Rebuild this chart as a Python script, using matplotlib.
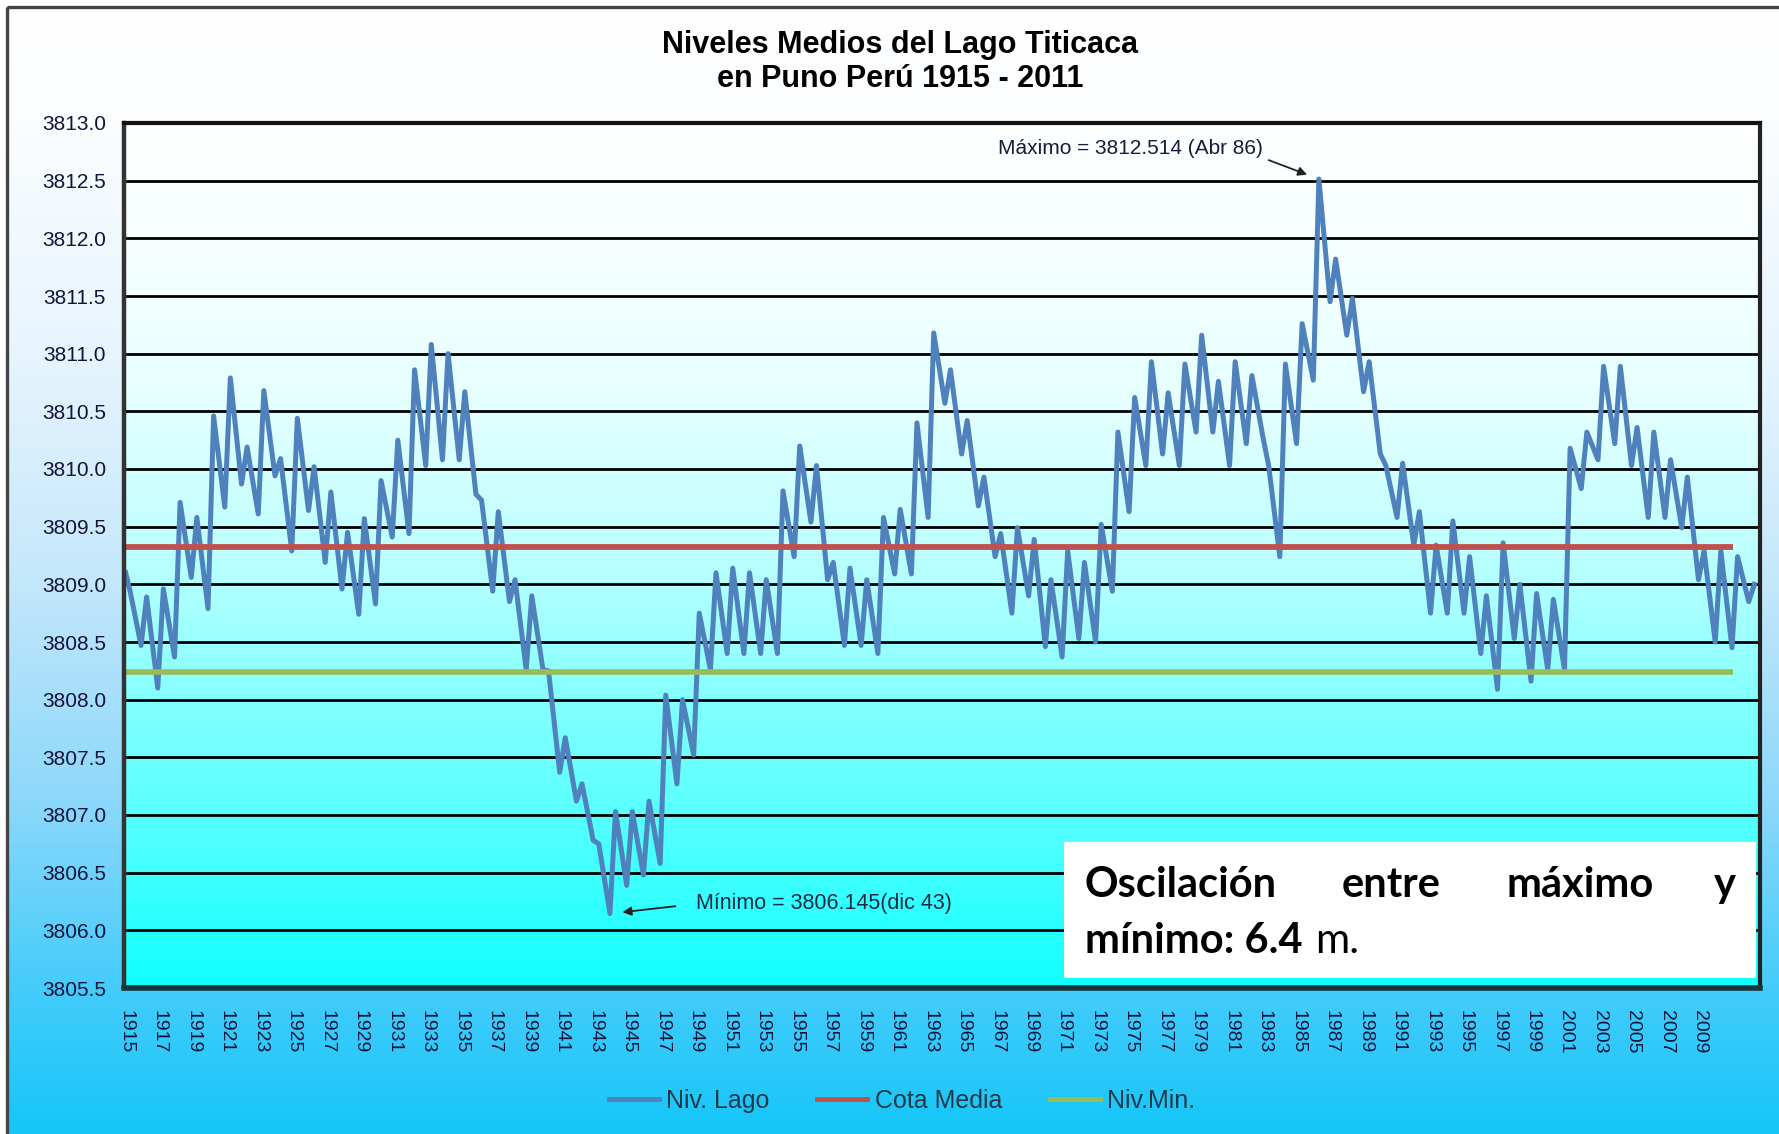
import numpy as np
import matplotlib
matplotlib.use("Agg")
import matplotlib.pyplot as plt
from matplotlib.colors import LinearSegmentedColormap
from matplotlib.patches import Rectangle
from matplotlib.lines import Line2D

# ---------------- data ----------------
anios = list(range(1915, 2012))
# annual high (April) and annual low (December) lake levels, m.s.n.m.
nivel_abril = [
    3808.95, 3808.89, 3808.96, 3809.71, 3809.58, 3810.46, 3810.79, 3810.19, 3810.68, 3810.09,
    3810.44, 3810.02, 3809.80, 3809.45, 3809.57, 3809.90, 3810.25, 3810.86, 3811.08, 3811.00,
    3810.67, 3809.73, 3809.63, 3809.04, 3808.90, 3808.25, 3807.67, 3807.27, 3806.75, 3807.03,
    3807.03, 3807.12, 3808.04, 3808.00, 3808.75, 3809.10, 3809.14, 3809.10, 3809.04, 3809.81,
    3810.20, 3810.03, 3809.19, 3809.14, 3809.04, 3809.58, 3809.65, 3810.40, 3811.18, 3810.86,
    3810.42, 3809.93, 3809.44, 3809.49, 3809.39, 3809.04, 3809.29, 3809.19, 3809.52, 3810.32,
    3810.62, 3810.93, 3810.66, 3810.91, 3811.16, 3810.76, 3810.93, 3810.81, 3810.03, 3810.91,
    3811.26, 3812.514, 3811.82, 3811.48, 3810.93, 3810.03, 3810.05, 3809.63, 3809.34, 3809.55,
    3809.24, 3808.90, 3809.36, 3809.00, 3808.92, 3808.87, 3810.18, 3810.32, 3810.89, 3810.89,
    3810.36, 3810.32, 3810.08, 3809.93, 3809.29, 3809.29, 3809.24,
]
nivel_diciembre = [
    3808.47, 3808.10, 3808.37, 3809.06, 3808.79, 3809.67, 3809.87, 3809.61, 3809.94, 3809.29,
    3809.64, 3809.19, 3808.96, 3808.74, 3808.83, 3809.41, 3809.44, 3810.03, 3810.08, 3810.08,
    3809.78, 3808.94, 3808.85, 3808.26, 3808.26, 3807.37, 3807.12, 3806.78, 3806.145, 3806.39,
    3806.48, 3806.58, 3807.27, 3807.52, 3808.26, 3808.40, 3808.40, 3808.40, 3808.40, 3809.24,
    3809.54, 3809.04, 3808.47, 3808.47, 3808.40, 3809.09, 3809.09, 3809.58, 3810.57, 3810.13,
    3809.68, 3809.24, 3808.75, 3808.90, 3808.46, 3808.37, 3808.53, 3808.50, 3808.94, 3809.63,
    3810.03, 3810.13, 3810.03, 3810.32, 3810.32, 3810.03, 3810.22, 3810.27, 3809.24, 3810.22,
    3810.77, 3811.45, 3811.16, 3810.67, 3810.13, 3809.58, 3809.34, 3808.75, 3808.75, 3808.75,
    3808.40, 3808.09, 3808.53, 3808.16, 3808.26, 3808.26, 3809.83, 3810.08, 3810.22, 3810.03,
    3809.58, 3809.58, 3809.49, 3809.04, 3808.50, 3808.45, 3808.85,
]
nivel_enero_1915 = 3809.10
nivel_abril_2012 = 3809.00

cota_media = 3809.32
nivel_minimo = 3808.24
anios_referencia = [1915, 2011]

maximo_anio, maximo_mes, maximo_valor = 1986, 4, 3812.514
minimo_anio, minimo_mes, minimo_valor = 1943, 12, 3806.145

yticks = [3805.5, 3806.0, 3806.5, 3807.0, 3807.5, 3808.0, 3808.5, 3809.0,
          3809.5, 3810.0, 3810.5, 3811.0, 3811.5, 3812.0, 3812.5, 3813.0]
xtick_anios = list(range(1915, 2010, 2))

titulo_1 = "Niveles Medios del Lago Titicaca"
titulo_2 = "en Puno Perú 1915 - 2011"
etiquetas_leyenda = ["Niv. Lago", "Cota Media", "Niv.Min."]

# ---------------- figure ----------------
W, H = 1779, 1134
fig = plt.figure(figsize=(W / 100, H / 100), dpi=100)
fig.patch.set_facecolor("white")


def fx(px):
    return px / W


def fy(py):
    return 1 - py / H


# background gradient of the chart area
bg = fig.add_axes([0, 0, 1, 1], zorder=-10)
bg.set_xlim(0, W)
bg.set_ylim(H, 0)
bg.axis("off")
cmap_bg = LinearSegmentedColormap.from_list(
    "bg", [(0.0, "#FFFFFF"), (0.1, "#FBFDFF"), (0.3, "#E8F5FE"), (0.5, "#C6E8FB"),
           (0.7, "#8ED8FA"), (0.87, "#45CCFB"), (1.0, "#15C6F8")])
grad = np.linspace(0, 1, 256).reshape(-1, 1)
bg.imshow(grad, cmap=cmap_bg, aspect="auto", extent=[7, W, H, 7], zorder=0)
bg.add_patch(Rectangle((7, 7), W + 20, H + 20, fill=False, edgecolor="#444444",
                       lw=2.4, zorder=2))

# plot axes
L, R, T, B = 124, 1760, 123, 988
ax = fig.add_axes([fx(L), fy(B), fx(R - L), (B - T) / H])
ax.patch.set_alpha(0)
xlim = (1914.9, 2012.59)
ylim = (yticks[0], yticks[-1])
cmap_plot = LinearSegmentedColormap.from_list(
    "pl", [(0.0, "#FFFFFF"), (0.13, "#F8FFFF"), (0.33, "#E4FFFF"), (0.5, "#BCFFFF"),
           (0.67, "#84FFFF"), (0.87, "#40FFFF"), (1.0, "#10FFFF")])
ax.imshow(grad, cmap=cmap_plot, aspect="auto",
          extent=[xlim[0], xlim[1], ylim[0], ylim[1]], origin="upper", zorder=0)

# lake level series
t = [1915.0]
v = [nivel_enero_1915]
for a, hi, lo in zip(anios, nivel_abril, nivel_diciembre):
    t += [a + 3 / 12, a + 11 / 12]
    v += [hi, lo]
t.append(2012 + 3 / 12)
v.append(nivel_abril_2012)

ax.plot(t, v, color="#4F81BD", lw=3.6, zorder=3, solid_joinstyle="round")
ax.plot(anios_referencia, [cota_media] * 2, color="#C0504D", lw=4.2, zorder=4,
        solid_capstyle="butt")
ax.plot(anios_referencia, [nivel_minimo] * 2, color="#9BBB59", lw=4.0, zorder=5,
        solid_capstyle="butt")

ax.set_xlim(*xlim)
ax.set_ylim(*ylim)
ax.set_yticks(yticks)
ax.set_yticklabels([f"{y:.1f}" for y in yticks], fontfamily="Liberation Sans",
                   fontsize=15, color="#14143a")
ax.set_xticks(xtick_anios)
ax.set_xticklabels([str(y) for y in xtick_anios], rotation=-90,
                   fontfamily="Liberation Sans", fontsize=14, color="#14143a")
ax.tick_params(axis="y", length=0, pad=13)
ax.tick_params(axis="x", length=0, pad=16)
ax.yaxis.grid(True, color="black", lw=2.0, zorder=1.5)
ax.xaxis.grid(False)
for side, col, lw in [("left", "#333333", 3.2), ("top", "#111111", 3.0),
                      ("right", "#222222", 3.0), ("bottom", "#17363c", 4.0)]:
    ax.spines[side].set_color(col)
    ax.spines[side].set_linewidth(lw)
    ax.spines[side].set_zorder(6)

# annotations
t_max = maximo_anio + (maximo_mes - 1) / 12
t_min = minimo_anio + (minimo_mes - 1) / 12
ax.annotate("Máximo = 3812.514 (Abr 86)", xy=(t_max, maximo_valor),
            xytext=(-40, 22), textcoords="offset points", ha="right", va="center",
            fontfamily="Liberation Sans", fontsize=15, color="#1a1a3a", zorder=7,
            arrowprops=dict(arrowstyle="-|>", color="#222222", lw=1.3,
                            mutation_scale=13, shrinkA=2, shrinkB=9,
                            relpos=(0.98, 0.1)))
ax.annotate("Mínimo = 3806.145(dic 43)", xy=(t_min, minimo_valor),
            xytext=(62, 7), textcoords="offset points", ha="left", va="center",
            fontfamily="Liberation Sans", fontsize=15.5, color="#1a2a40", zorder=7,
            arrowprops=dict(arrowstyle="-|>", color="#222222", lw=1.3,
                            mutation_scale=13, shrinkA=13, shrinkB=9,
                            relpos=(0.0, 0.5)))

# title
fig.text(fx(900), fy(45), titulo_1, ha="center", va="center",
         fontfamily="Liberation Sans", fontweight="bold", fontsize=22, color="black")
fig.text(fx(900), fy(79), titulo_2, ha="center", va="center",
         fontfamily="Liberation Sans", fontweight="bold", fontsize=22, color="black")

# legend
handles = [Line2D([], [], color="#4F81BD", lw=3.5),
           Line2D([], [], color="#C0504D", lw=3.5),
           Line2D([], [], color="#9BBB59", lw=3.5)]
fig.legend(handles, etiquetas_leyenda, loc="center", bbox_to_anchor=(fx(902), fy(1101)),
           ncol=3, frameon=False, handlelength=2.0, handletextpad=0.3,
           columnspacing=1.9, prop={"family": "Liberation Sans", "size": 18},
           labelcolor="#1d3a4a")

# text box
fg = fig.add_axes([0, 0, 1, 1], zorder=20)
fg.set_xlim(0, W)
fg.set_ylim(H, 0)
fg.axis("off")
fg.patch.set_alpha(0)
fg.add_patch(Rectangle((1064, 842), 1756 - 1064, 978 - 842, facecolor="white",
                       edgecolor="none", zorder=1))
box_kw = dict(fontfamily="Lato", fontweight="bold", fontsize=30, color="black",
              va="baseline", zorder=2)
fg.text(1085, 897, "Oscilación", ha="left", **box_kw)
fg.text(1391, 897, "entre", ha="center", **box_kw)
fg.text(1580, 897, "máximo", ha="center", **box_kw)
fg.text(1736, 897, "y", ha="right", **box_kw)
t2 = fg.text(1085, 953, "mínimo: 6.4", ha="left", **box_kw)
fig.canvas.draw()
bb = t2.get_window_extent()
x_end = bb.x1  # display pixels == figure pixels at dpi 100
fg.text(x_end + 13, 953, "m.", ha="left", va="baseline", fontfamily="Lato",
        fontsize=30, color="black", zorder=2)

fig.savefig("out.png", dpi=100)
